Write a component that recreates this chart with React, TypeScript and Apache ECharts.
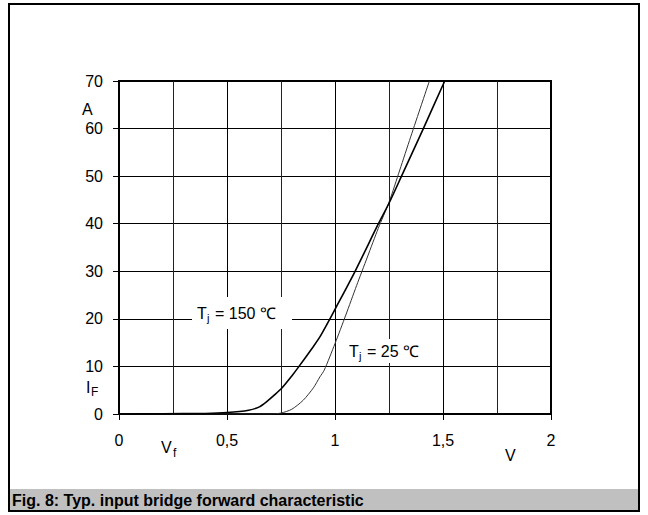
import React, { useEffect, useRef } from "react";
import * as echarts from "echarts";

const V150 = [0, 0.2, 0.4, 0.5, 0.6, 0.65, 0.684, 0.72, 0.753, 0.8, 0.83, 0.9, 0.93, 0.974, 1.0, 1.093, 1.201, 1.25, 1.308, 1.409, 1.508];
const I150 = [0, 0.05, 0.12, 0.3, 0.8, 1.5, 2.6, 4.0, 5.4, 8.0, 9.8, 14.2, 16.2, 19.8, 22.0, 30, 40, 44.3, 50, 60, 70];

const V25 = [0, 0.5, 0.7, 0.75, 0.8, 0.853, 0.9, 0.93, 0.95, 1.0, 1.05, 1.1, 1.15, 1.2, 1.25, 1.3, 1.35, 1.4, 1.437];
const I25 = [0, 0, 0, 0.2, 1.0, 2.9, 5.5, 7.8, 9.2, 14.8, 20.8, 27, 33, 39, 44.5, 51.3, 58.2, 65, 70];

const X_TICKS_MIN = 0;
const X_TICKS_MAX = 2;
const Y_TICKS_MIN = 0;
const Y_TICKS_MAX = 70;

const CAPTION = "Fig. 8: Typ. input bridge forward characteristic";
const FONT = "'Liberation Sans', Arial, Helvetica, sans-serif";

export default function App() {
  const ref = useRef<HTMLDivElement>(null);
  useEffect(() => {
    if (!ref.current) return;
    const chart = echarts.init(ref.current, undefined, { renderer: "svg" });
    const txt = (text: string, x: number, y: number, size = 16, extra: any = {}) => ({
      type: "text",
      x,
      y,
      z: 20,
      style: { text, fontSize: size, fontFamily: FONT, fill: "#000", textVerticalAlign: "middle", ...extra },
    });
    chart.setOption({
      animation: false,
      backgroundColor: "#fff",
      textStyle: { fontFamily: FONT },
      grid: {
        left: 119,
        top: 81,
        width: 432,
        height: 333,
        show: true,
        borderColor: "#000",
        borderWidth: 2,
        backgroundColor: "transparent",
      },
      xAxis: {
        type: "value",
        min: X_TICKS_MIN,
        max: X_TICKS_MAX,
        interval: 0.5,
        axisLine: { show: true, onZero: false, lineStyle: { color: "#000", width: 1.5 } },
        axisTick: { show: true, inside: false, length: 6, lineStyle: { color: "#000", width: 1 } },
        axisLabel: {
          margin: 18,
          fontSize: 16,
          color: "#000",
          fontFamily: FONT,
          formatter: (v: number) => String(v).replace(".", ","),
        },
        splitLine: { show: true, lineStyle: { color: "#000", width: 1 } },
        minorTick: { show: false, splitNumber: 2 },
        minorSplitLine: { show: true, lineStyle: { color: "#222", width: 1 } },
      },
      yAxis: {
        type: "value",
        min: Y_TICKS_MIN,
        max: Y_TICKS_MAX,
        interval: 10,
        axisLine: { show: true, lineStyle: { color: "#000", width: 1.5 } },
        axisTick: { show: true, inside: false, length: 6, lineStyle: { color: "#000", width: 1 } },
        axisLabel: { margin: 16, fontSize: 16, color: "#000", fontFamily: FONT },
        splitLine: { show: true, lineStyle: { color: "#000", width: 1 } },
      },
      series: [
        {
          name: "Tj = 150 °C",
          type: "line",
          data: V150.map((v, i) => [v, I150[i]]),
          showSymbol: false,
          smooth: 0.25,
          lineStyle: { color: "#000", width: 1.6 },
          z: 5,
        },
        {
          name: "Tj = 25 °C",
          type: "line",
          data: V25.map((v, i) => [v, I25[i]]),
          showSymbol: false,
          smooth: 0.25,
          lineStyle: { color: "#333", width: 1 },
          z: 4,
        },
      ],
      graphic: [
        {
          type: "rect",
          z: 1,
          shape: { x: 9, y: 4, width: 630, height: 507 },
          style: { fill: "none", stroke: "#000", lineWidth: 2 },
        },
        {
          type: "rect",
          z: 2,
          shape: { x: 10, y: 489, width: 628, height: 21 },
          style: { fill: "#c0c0c0", stroke: "none" },
        },
        txt(CAPTION, 12, 500, 16, { fontWeight: "bold" }),
        {
          type: "rect",
          z: 15,
          shape: { x: 192, y: 297, width: 100, height: 32 },
          style: { fill: "#fff", stroke: "none" },
        },
        {
          type: "rect",
          z: 15,
          shape: { x: 345, y: 339, width: 84, height: 24 },
          style: { fill: "#fff", stroke: "none" },
        },
        txt("T", 197, 313),
        txt("j", 207, 318, 11),
        txt("= 150 ℃", 215, 313),
        txt("T", 349, 351),
        txt("j", 359, 356, 11),
        txt("= 25 ℃", 367, 351),
        txt("A", 82, 109),
        txt("I", 86, 387),
        txt("F", 91, 392, 12),
        txt("V", 161, 447),
        txt("f", 173, 453, 12),
        txt("V", 505, 455),
      ],
    });
    return () => chart.dispose();
  }, []);
  return (
    <div
      ref={ref}
      style={{ position: "absolute", left: 0, top: 0, width: 648, height: 515 }}
    />
  );
}
